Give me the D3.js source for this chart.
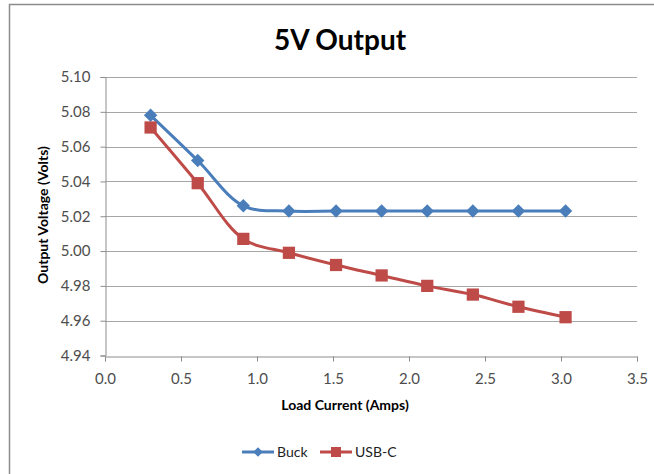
<!DOCTYPE html>
<html>
<head>
<meta charset="utf-8">
<script src="https://cdn.jsdelivr.net/npm/d3@7"></script>
<style>
  html, body { margin: 0; padding: 0; background: #fff; }
  svg { display: block; }
</style>
</head>
<body>
<svg id="chart" width="654" height="474"></svg>
<script>
// ---- data ----
const loadCurrent = [0.30, 0.61, 0.91, 1.21, 1.52, 1.82, 2.12, 2.42, 2.72, 3.03];
const buckVolts   = [5.078, 5.052, 5.026, 5.023, 5.023, 5.023, 5.023, 5.023, 5.023, 5.023];
const usbcVolts   = [5.071, 5.039, 5.007, 4.999, 4.992, 4.986, 4.980, 4.975, 4.968, 4.962];
const seriesNames = ["Buck", "USB-C"];
const xTicks = [0, 0.5, 1.0, 1.5, 2.0, 2.5, 3.0, 3.5];
const yTicks = [4.94, 4.96, 4.98, 5.00, 5.02, 5.04, 5.06, 5.08, 5.10];
const titleText = "5V Output";
const xTitle = "Load Current (Amps)";
const yTitle = "Output Voltage (Volts)";

const colors = { "Buck": "#4a7ebb", "USB-C": "#be4b48" };
const font = "Lato, 'Open Sans', sans-serif";

const svg = d3.select("#chart");

// chart border
svg.append("rect")
  .attr("x", 9.5).attr("y", 4.5).attr("width", 700).attr("height", 520)
  .attr("fill", "#fff").attr("stroke", "#8c8c8c").attr("stroke-width", 1.5);

const plot = { left: 105, right: 637, top: 77, bottom: 355.5 };

const x = d3.scaleLinear().domain([0, 3.5]).range([plot.left, plot.right]);
const y = d3.scaleLinear().domain([4.94, 5.10]).range([plot.bottom, plot.top]);

// gridlines
svg.append("g")
  .selectAll("line").data(yTicks.filter(d => d > 4.94)).join("line")
  .attr("x1", plot.left).attr("x2", plot.right)
  .attr("y1", d => Math.round(y(d)) + 0.5).attr("y2", d => Math.round(y(d)) + 0.5)
  .attr("stroke", "#a6a6a6").attr("stroke-width", 1.2);

// y axis
const yAxis = svg.append("g")
  .attr("transform", `translate(${plot.left + 0.5},0)`)
  .call(d3.axisLeft(y).tickValues(yTicks).tickFormat(d3.format(".2f")).tickSize(5).tickPadding(10));
yAxis.select(".domain").attr("stroke", "#8c8c8c");
yAxis.selectAll(".tick line").attr("stroke", "#8c8c8c");
yAxis.selectAll("text").attr("font-family", font).attr("font-size", 15).attr("fill", "#4d4d4d");

// x axis
const xAxis = svg.append("g")
  .attr("transform", `translate(0,${Math.round(plot.bottom) + 0.5})`)
  .call(d3.axisBottom(x).tickValues(xTicks).tickFormat(d3.format(".1f")).tickSize(5).tickPadding(12));
xAxis.select(".domain").attr("stroke", "#8c8c8c");
xAxis.selectAll(".tick line").attr("stroke", "#8c8c8c");
xAxis.selectAll("text").attr("font-family", font).attr("font-size", 15).attr("fill", "#4d4d4d");

// title
svg.append("text")
  .attr("x", 340).attr("y", 50).attr("text-anchor", "middle")
  .attr("font-family", font).attr("font-weight", "bold").attr("font-size", 28)
  .attr("fill", "#000").text(titleText);

// axis titles
svg.append("text")
  .attr("x", 345).attr("y", 410).attr("text-anchor", "middle")
  .attr("font-family", font).attr("font-weight", "bold").attr("font-size", 14)
  .attr("fill", "#000").text(xTitle);

svg.append("text")
  .attr("transform", "translate(48,215) rotate(-90)").attr("text-anchor", "middle")
  .attr("font-family", font).attr("font-weight", "bold").attr("font-size", 14)
  .attr("fill", "#000").text(yTitle);

// series
const series = [
  { name: "Buck", values: buckVolts, symbol: d3.symbolSquare, size: 90, rot: 45 },
  { name: "USB-C", values: usbcVolts, symbol: d3.symbolSquare, size: 150, rot: 0 }
];

const line = d3.line()
  .x(d => x(d[0])).y(d => y(d[1]))
  .curve(d3.curveCatmullRom.alpha(0.5));

series.forEach(s => {
  const pts = loadCurrent.map((c, i) => [c, s.values[i]]);
  svg.append("path")
    .datum(pts)
    .attr("d", line)
    .attr("fill", "none")
    .attr("stroke", colors[s.name])
    .attr("stroke-width", 3)
    .attr("stroke-linejoin", "round");
});

series.forEach(s => {
  const pts = loadCurrent.map((c, i) => [c, s.values[i]]);
  svg.append("g").selectAll("path").data(pts).join("path")
    .attr("transform", d => `translate(${x(d[0])},${y(d[1])}) rotate(${s.rot})`)
    .attr("d", d3.symbol().type(s.symbol).size(s.size))
    .attr("fill", colors[s.name]);
});

// legend
const legendItems = [
  { name: seriesNames[0], symbol: d3.symbolSquare, size: 45, rot: 45, x0: 242 },
  { name: seriesNames[1], symbol: d3.symbolSquare, size: 100, rot: 0, x0: 320 }
];
const ly = 452;
legendItems.forEach(it => {
  const g = svg.append("g");
  g.append("line").attr("x1", it.x0).attr("x2", it.x0 + 32)
    .attr("y1", ly).attr("y2", ly)
    .attr("stroke", colors[it.name]).attr("stroke-width", 3);
  g.append("path")
    .attr("transform", `translate(${it.x0 + 16},${ly}) rotate(${it.rot})`)
    .attr("d", d3.symbol().type(it.symbol).size(it.size))
    .attr("fill", colors[it.name]);
  g.append("text")
    .attr("x", it.x0 + 35).attr("y", ly + 5)
    .attr("font-family", font).attr("font-size", 14).attr("fill", "#222")
    .text(it.name);
});
</script>
</body>
</html>
